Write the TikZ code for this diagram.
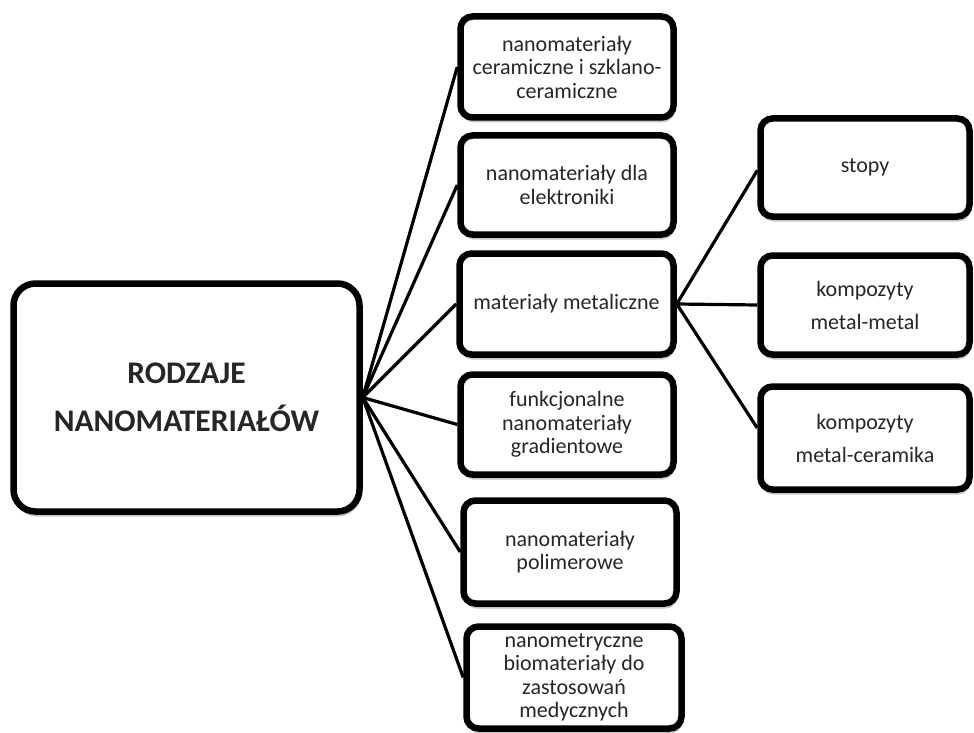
\documentclass[tikz,border=0pt]{standalone}
\usepackage{fontspec}
\setmainfont{Carlito}
\usetikzlibrary{shadows}
\begin{document}
\begin{tikzpicture}[x=1pt,y=-1pt,
  box/.style={draw=black, line width=6.5pt, rounded corners=12pt, fill=white,
    align=center, font=\fontsize{22}{23.5}\selectfont, text=black!85, inner sep=2pt,
    drop shadow={shadow xshift=1pt, shadow yshift=-5pt, fill=black!45, opacity=0.5}},
  rbox/.style={box, font=\fontsize{22}{33}\selectfont},
  link/.style={line width=3.2pt, draw=black}]
\useasboundingbox (0,0) rectangle (974,733);

\node[box, minimum width=346pt, minimum height=228pt, rounded corners=22pt,
  font=\bfseries\fontsize{31.5}{48}\selectfont] (main) at (186.5,397.5) {RODZAJE\\NANOMATERIAŁÓW};

\node[box, minimum width=213pt, minimum height=101pt] (b1) at (567,67) {nanomateriały\\ceramiczne i szklano-\\ceramiczne};
\node[box, minimum width=213pt, minimum height=99pt] (b2) at (567,185) {nanomateriały dla\\elektroniki};
\node[box, minimum width=214pt, minimum height=101pt] (b3) at (566.5,304) {materiały metaliczne};
\node[box, minimum width=213pt, minimum height=100pt] (b4) at (567,424.5) {funkcjonalne\\nanomateriały\\gradientowe};
\node[box, minimum width=213pt, minimum height=103pt] (b5) at (570,552) {nanomateriały\\polimerowe};
\node[box, minimum width=215pt, minimum height=102pt] (b6) at (574,677.5) {nanometryczne\\biomateriały do\\zastosowań\\medycznych};

\node[rbox, minimum width=209pt, minimum height=98pt] (r1) at (865,167.5) {stopy};
\node[rbox, minimum width=209pt, minimum height=99pt] (r2) at (865,305) {kompozyty\\metal-metal};
\node[rbox, minimum width=209pt, minimum height=103pt] (r3) at (865,438) {kompozyty\\metal-ceramika};

\foreach \t in {b1,b2,b3,b4,b5,b6}
  \draw[link] (main.east) -- (\t.west);
\draw[link] (b3.east) -- ([yshift=-3pt]r1.west);
\draw[link] (b3.east) -- (r2.west);
\draw[link] (b3.east) -- ([yshift=10pt]r3.west);
\end{tikzpicture}
\end{document}
